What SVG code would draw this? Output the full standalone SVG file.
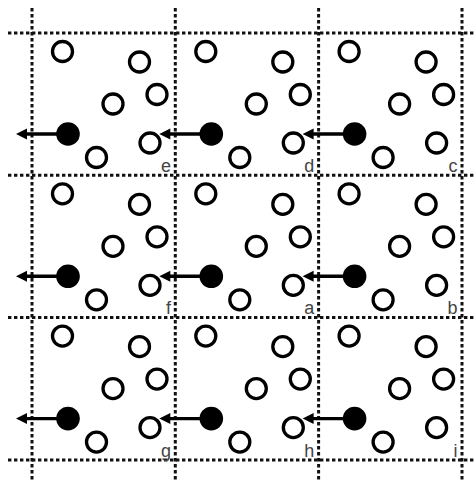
<svg xmlns="http://www.w3.org/2000/svg" xmlns:xlink="http://www.w3.org/1999/xlink" width="476" height="483" viewBox="0 0 476 483">
<style>
.grid{stroke:#111;stroke-width:3;stroke-dasharray:3.4 2.6;fill:none}
.open{fill:#fff;stroke:#000;stroke-width:3.3}
.full{fill:#000}
.arr{stroke:#000;stroke-width:3.4}
.lbl{font-family:"Liberation Sans",Arial,sans-serif;font-size:18px;fill:#444;text-anchor:end}
</style>
<defs>
<g id="cell">
<circle class="open" cx="30.5" cy="18.5" r="10"/>
<circle class="open" cx="107.5" cy="29" r="10"/>
<circle class="open" cx="125" cy="61.5" r="10"/>
<circle class="open" cx="81" cy="71" r="10"/>
<circle class="open" cx="118" cy="110" r="10"/>
<circle class="open" cx="64.5" cy="124.5" r="10"/>
<line class="arr" x1="36" y1="101" x2="-6" y2="101"/>
<polygon points="-16,101 -5,95.5 -5,106.5" fill="#000"/>
<circle class="full" cx="36" cy="101" r="11.8"/>
</g>
</defs>
<g id="connectors">
<line class="grid" x1="32" y1="8" x2="32" y2="481"/>
<line class="grid" x1="175.3" y1="8" x2="175.3" y2="481"/>
<line class="grid" x1="318.6" y1="8" x2="318.6" y2="481"/>
<line class="grid" x1="462" y1="8" x2="462" y2="481"/>
<line class="grid" x1="8" y1="33" x2="476" y2="33"/>
<line class="grid" x1="8" y1="175.3" x2="476" y2="175.3"/>
<line class="grid" x1="8" y1="317.6" x2="476" y2="317.6"/>
<line class="grid" x1="8" y1="460" x2="476" y2="460"/>
</g>
<g id="cell-e" transform="translate(32,33)"><use xlink:href="#cell"/><text class="lbl" x="139" y="139">e</text></g>
<g id="cell-d" transform="translate(175.3,33)"><use xlink:href="#cell"/><text class="lbl" x="139" y="139">d</text></g>
<g id="cell-c" transform="translate(318.6,33)"><use xlink:href="#cell"/><text class="lbl" x="139" y="139">c</text></g>
<g id="cell-f" transform="translate(32,175.3)"><use xlink:href="#cell"/><text class="lbl" x="139" y="139">f</text></g>
<g id="cell-a" transform="translate(175.3,175.3)"><use xlink:href="#cell"/><text class="lbl" x="139" y="139">a</text></g>
<g id="cell-b" transform="translate(318.6,175.3)"><use xlink:href="#cell"/><text class="lbl" x="139" y="139">b</text></g>
<g id="cell-g" transform="translate(32,317.6)"><use xlink:href="#cell"/><text class="lbl" x="139" y="139">g</text></g>
<g id="cell-h" transform="translate(175.3,317.6)"><use xlink:href="#cell"/><text class="lbl" x="139" y="139">h</text></g>
<g id="cell-i" transform="translate(318.6,317.6)"><use xlink:href="#cell"/><text class="lbl" x="139" y="139">i</text></g>
</svg>
